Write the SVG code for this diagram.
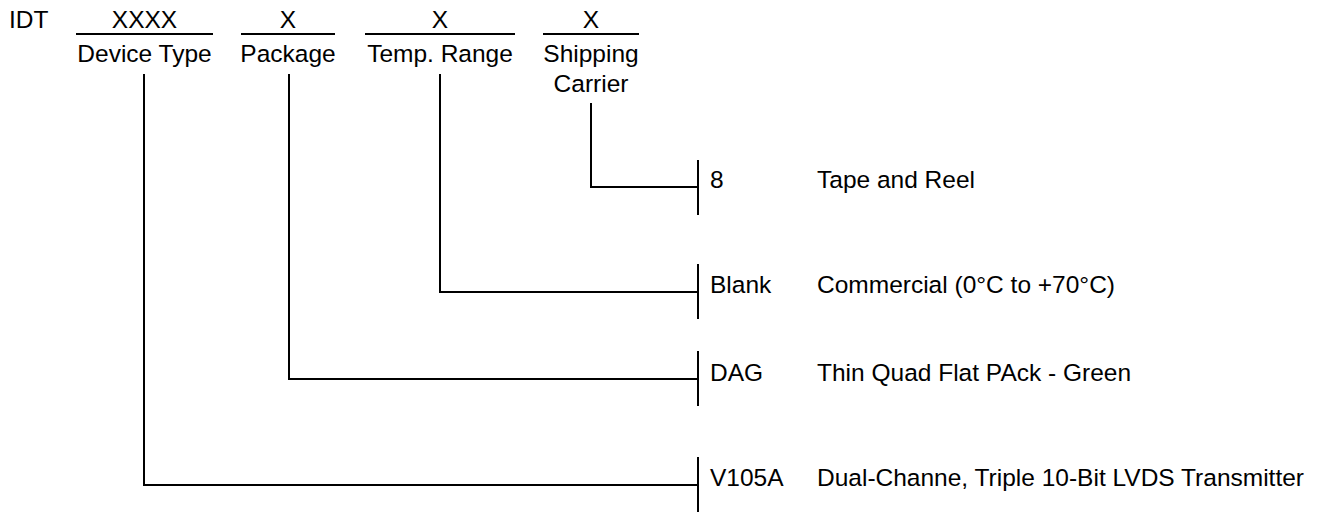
<svg xmlns="http://www.w3.org/2000/svg" width="1338" height="512" viewBox="0 0 1338 512">
<style>
text{font-family:"Liberation Sans",Arial,sans-serif;font-size:24.5px;fill:#000}
.c{text-anchor:middle}
.ln{stroke:#000;stroke-width:2;fill:none}
</style>
<rect width="1338" height="512" fill="#fff"/>
<g id="header">
<text x="9" y="28">IDT</text>
</g>
<g id="field-device-type">
<text class="c" x="144.5" y="28">XXXX</text>
<line class="ln" x1="76" y1="34" x2="213" y2="34"/>
<text class="c" x="144.5" y="62">Device Type</text>
</g>
<g id="field-package">
<text class="c" x="288" y="28">X</text>
<line class="ln" x1="241" y1="34" x2="335" y2="34"/>
<text class="c" x="288" y="62">Package</text>
</g>
<g id="field-temp">
<text class="c" x="440" y="28">X</text>
<line class="ln" x1="365" y1="34" x2="515" y2="34"/>
<text class="c" x="440" y="62">Temp. Range</text>
</g>
<g id="field-shipping">
<text class="c" x="591" y="28">X</text>
<line class="ln" x1="543" y1="34" x2="639" y2="34"/>
<text class="c" x="591" y="62">Shipping</text>
<text class="c" x="591" y="92">Carrier</text>
</g>
<g id="connectors">
<polyline class="ln" points="591,103 591,187 698,187"/>
<polyline class="ln" points="440,74 440,292 698,292"/>
<polyline class="ln" points="289,74 289,379 698,379"/>
<polyline class="ln" points="144,74 144,485 698,485"/>
<line class="ln" x1="698" y1="160" x2="698" y2="215"/>
<line class="ln" x1="698" y1="264" x2="698" y2="319"/>
<line class="ln" x1="698" y1="351" x2="698" y2="406"/>
<line class="ln" x1="698" y1="457" x2="698" y2="512"/>
</g>
<g id="opt-8">
<text x="710" y="188">8</text>
<text x="817" y="188">Tape and Reel</text>
</g>
<g id="opt-blank">
<text x="710" y="293">Blank</text>
<text x="817" y="293">Commercial (0°C to +70°C)</text>
</g>
<g id="opt-dag">
<text x="710" y="381">DAG</text>
<text x="817" y="381">Thin Quad Flat PAck - Green</text>
</g>
<g id="opt-v105a">
<text x="710" y="486">V105A</text>
<text x="817" y="486">Dual-Channe, Triple 10-Bit LVDS Transmitter</text>
</g>
</svg>
